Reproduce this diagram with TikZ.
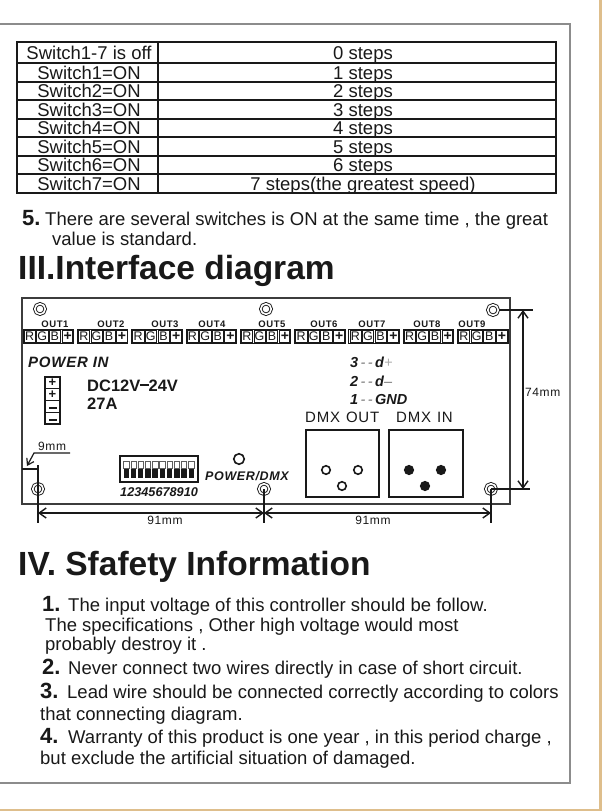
\documentclass[tikz,border=0pt]{standalone}
\usepackage{fontspec}
\setmainfont{Liberation Sans}
\usetikzlibrary{arrows.meta}
\definecolor{tanline}{RGB}{222,190,140}
\definecolor{framegray}{RGB}{140,140,140}
\definecolor{ink}{RGB}{25,25,25}
\begin{document}
\begin{tikzpicture}[x=1pt,y=-1pt,line join=miter,
  tline/.style={draw=ink,line width=1.3},
  tcell/.style={font=\fontsize{18.5}{22}\selectfont,inner sep=0,anchor=base,text=ink},
  body/.style={font=\fontsize{18.5}{22}\selectfont,inner sep=0,anchor=base west,text=ink},
  num/.style={font=\fontsize{22}{24}\selectfont\bfseries,inner sep=0,anchor=base west,text=ink},
  title/.style={font=\fontsize{33.5}{36}\selectfont\bfseries,inner sep=0,anchor=base west,text=ink},
  hole/.style={circle,draw=ink,double=white,double distance=1.6pt,line width=0.9pt,minimum size=10.5pt,inner sep=0},
  blk/.style={draw=ink,line width=0.8},
  outlbl/.style={font=\fontsize{9.5}{10}\selectfont\bfseries\addfontfeatures{LetterSpace=6},inner sep=0,anchor=base,text=ink},
  celltxt/.style={font=\fontsize{12.5}{13}\selectfont,inner sep=0,text=ink},
  bi/.style={font=\fontsize{#1}{#1}\selectfont\bfseries\itshape,inner sep=0,anchor=base west,text=ink},
  bis/.style={font=\fontsize{#1}{#1}\selectfont\bfseries\itshape\addfontfeatures{LetterSpace=5},inner sep=0,anchor=base west,text=ink},
  reg/.style={font=\fontsize{#1}{#1}\selectfont,inner sep=0,anchor=base west,text=ink},
  regs/.style={font=\fontsize{#1}{#1}\selectfont\addfontfeatures{LetterSpace=5},inner sep=0,anchor=base west,text=ink},
  dim/.style={draw=ink,line width=1.4},
  dimarr/.style={dim,{Straight Barb[length=7pt,width=10pt]}-{Straight Barb[length=7pt,width=10pt]}},
  pin/.style={circle,draw=ink,line width=1.6,minimum size=8.5pt,inner sep=0}
]
\useasboundingbox (0,0) rectangle (602,811);
\fill[white] (0,0) rectangle (602,811);
% page frame and border
\draw[framegray,line width=1.6] (-5,24) -- (570,24) -- (570,783) -- (-5,783);
\draw[tanline,line width=2.5] (600.5,0) -- (600.5,811);
\draw[tanline,line width=2] (0,810) -- (602,810);

% ---------- table ----------
\draw[tline,line width=1.5] (17,42) rectangle (556,193);
\draw[tline] (158,42) -- (158,193);
\foreach \y in {63,82,100,119,137,156,174} \draw[tline] (17,\y) -- (556,\y);
\foreach \yc/\l/\r [count=\i] in {52.5/Switch1-7 is off/0 steps,72.5/Switch1=ON/1 steps,91/Switch2=ON/2 steps,109.5/Switch3=ON/3 steps,128/Switch4=ON/4 steps,146.5/Switch5=ON/5 steps,165/Switch6=ON/6 steps,183.5/Switch7=ON/7 steps(the greatest speed)}{
  \node[tcell] (sl\i) at (89,\yc+6.6) {\l};
  \node[tcell] (sr\i) at (363,\yc+6.6) {\r};
}

% ---------- paragraph 5 ----------
\node[num] (n5) at (22,225) {5.};
\node[body] (p5a) at (45,225) {There are several switches is ON at the same time , the great};
\node[body] (p5b) at (52,245) {value is standard.};

% ---------- titles ----------
\node[title] (t3) at (18,279) {III.Interface diagram};
\node[title] (t4) at (18,575) {IV. Sfafety Information};

% ---------- interface diagram ----------
\draw[draw=ink!85,line width=1.5] (22,298) rectangle (510,504);
\foreach \n/\x/\y in {h1/40/309,h2/266/309,h3/493/310,h4/38/489,h5/264/489,h6/491/489}
  \node[hole] (\n) at (\x,\y) {};

% connector blocks
\foreach \i in {0,...,8}{
  \pgfmathsetmacro\bx{23+54.3*\i}
  \draw[blk] (\bx,329) rectangle (\bx+50.5,343.5);
  \foreach \k/\t in {0/R,1/G,2/B}{
    \draw[blk,line width=0.6] (\bx+12.62*\k+1,330.3) rectangle (\bx+12.62*\k+12.62-0.3,342.2);
    \node[celltxt] (c\i\k) at (\bx+12.62*\k+6.6,336.3) {\t};
  }
  \draw[blk,line width=0.6] (\bx+12.62*3+1,330.3) rectangle (\bx+50.5-1,342.2);
  \node[celltxt,font=\fontsize{14}{14}\selectfont\bfseries] (c\i3) at (\bx+12.62*3+6.8,336) {+};
}
\foreach \x [count=\i] in {55,111,165,212,272,324,372,427,472}
  \node[outlbl] (o\i) at (\x,327) {OUT\i};

% power in
\node[bis=15] (pwr) at (28,367) {POWER IN};
\foreach \k in {0,...,3}
  \draw[blk,line width=1.1] (45,377+11.75*\k) rectangle (60,377+11.75*\k+11.75);
\node[celltxt,font=\fontsize{13}{13}\selectfont\bfseries] (pt0) at (52.5,382.6) {+};
\node[celltxt,font=\fontsize{13}{13}\selectfont\bfseries] (pt1) at (52.5,394.3) {+};
\fill[ink] (48.5,406.8) rectangle (56.5,408.8);
\fill[ink] (48.5,418.5) rectangle (56.5,420.5);
\node[inner sep=0,anchor=base west,font=\fontsize{16.5}{17}\selectfont\bfseries,text=ink] (dc) at (87,391) {DC12V\rule[0.3em]{0.5em}{0.15em}24V};
\node[inner sep=0,anchor=base west,font=\fontsize{16.5}{17}\selectfont\bfseries,text=ink] (amp) at (87,409.5) {27A};

% DMX pins text
\node[bi=14.5] (l3) at (350,367) {3\,{\mdseries\color{ink!60}-\,-}\,d{\mdseries\color{ink!35}+}};
\node[bi=14.5] (l2) at (350,386) {2\,{\mdseries\color{ink!60}-\,-}\,d{\mdseries\color{ink!60}--}};
\node[bi=14.5] (l1) at (350,404) {1\,{\mdseries\color{ink!60}-\,-}\,GND};

\node[regs=15] (dmxo) at (305,422) {DMX\hspace{0.4em}OUT};
\node[regs=15] (dmxi) at (396,422) {DMX\hspace{0.4em}IN};
\draw[draw=ink,line width=2] (306,430) rectangle (379,497);
\draw[draw=ink,line width=2] (389,430) rectangle (463,497);
\node[pin] (po1) at (326,470) {};
\node[pin] (po2) at (358,470) {};
\node[pin] (po3) at (342,486) {};
\node[pin,fill=ink] (pi1) at (409,470) {};
\node[pin,fill=ink] (pi2) at (441,470) {};
\node[pin,fill=ink] (pi3) at (425,486) {};

% DIP switch
\draw[draw=ink,line width=1.2] (120,456) rectangle (198,482);
\foreach \j in {0,...,9}{
  \pgfmathsetmacro\sx{123.6+7.22*\j}
  \draw[draw=ink!70,line width=0.6] (\sx,461) rectangle (\sx+5.4,468.5);
  \fill[ink] (\sx,468.5) rectangle (\sx+5.4,477.5);
}
\node[bi=12.7] (dipn) at (120,496) {12345678910};
\node[circle,draw=ink,line width=1.6,minimum size=10.5pt,inner sep=0] (led) at (239,459) {};
\node[bis=12.5] (pdmx) at (205,480) {POWER/DMX};

% dimensions: 74mm
\coordinate (a74t) at (523,310);
\coordinate (a74b) at (523,489);
\coordinate (e74t) at (533,310);
\coordinate (e74b) at (530,489);
\draw[dim] (h3.east) -- (e74t);
\draw[dim] (h6.center) -- (e74b);
\draw[dimarr] (a74t) -- (a74b);
\node[regs=12] (m74) at (525,396) {74mm};

% dimensions: 91mm
\coordinate (v1t) at (38,465);
\coordinate (v1b) at (38,523);
\coordinate (v2b) at (264,523);
\coordinate (v3b) at (491,523);
\coordinate (d1) at (38,513);
\coordinate (d2) at (264,513);
\coordinate (d3) at (491,513);
\draw[dim] (v1t) -- (v1b);
\draw[dim] (h5.center) -- (v2b);
\draw[dim] (h6.center) -- (v3b);
\draw[dimarr] (d1) -- (d2);
\draw[dimarr] (d2) -- (d3);
\node[regs=12,anchor=base] (m91a) at (165,524) {91mm};
\node[regs=12,anchor=base] (m91b) at (373,524) {91mm};

% 9mm
\coordinate (b9l) at (22,469);
\draw[dim,line width=1.1] (b9l) -- (v1t |- b9l);
\coordinate (u9r) at (70,453);
\coordinate (u9l) at (34,453);
\coordinate (u9t) at (27,466);
\draw[dim,line width=1.2,-{Straight Barb[length=6pt,width=8pt]}] (u9r) -- (u9l) -- (u9t);
\node[regs=12] (m9) at (38,450) {9mm};

% ---------- safety information ----------
\node[num] (s1) at (42,611) {1.};
\node[body] (s1a) at (68,611) {The input voltage of this controller should be follow.};
\node[body] (s1b) at (45,631) {The specifications , Other high voltage would most};
\node[body] (s1c) at (45,650) {probably destroy it .};
\node[num] (s2) at (42,674) {2.};
\node[body] (s2a) at (68,674) {Never connect two wires directly in case of short circuit.};
\node[num] (s3) at (40,698) {3.};
\node[body] (s3a) at (67,698) {Lead wire should be connected correctly according to colors};
\node[body] (s3b) at (40,720) {that connecting diagram.};
\node[num] (s4) at (40,743) {4.};
\node[body] (s4a) at (68,743) {Warranty of this product is one year , in this period charge ,};
\node[body] (s4b) at (40,764) {but exclude the artificial situation of damaged.};
\end{tikzpicture}
\end{document}
